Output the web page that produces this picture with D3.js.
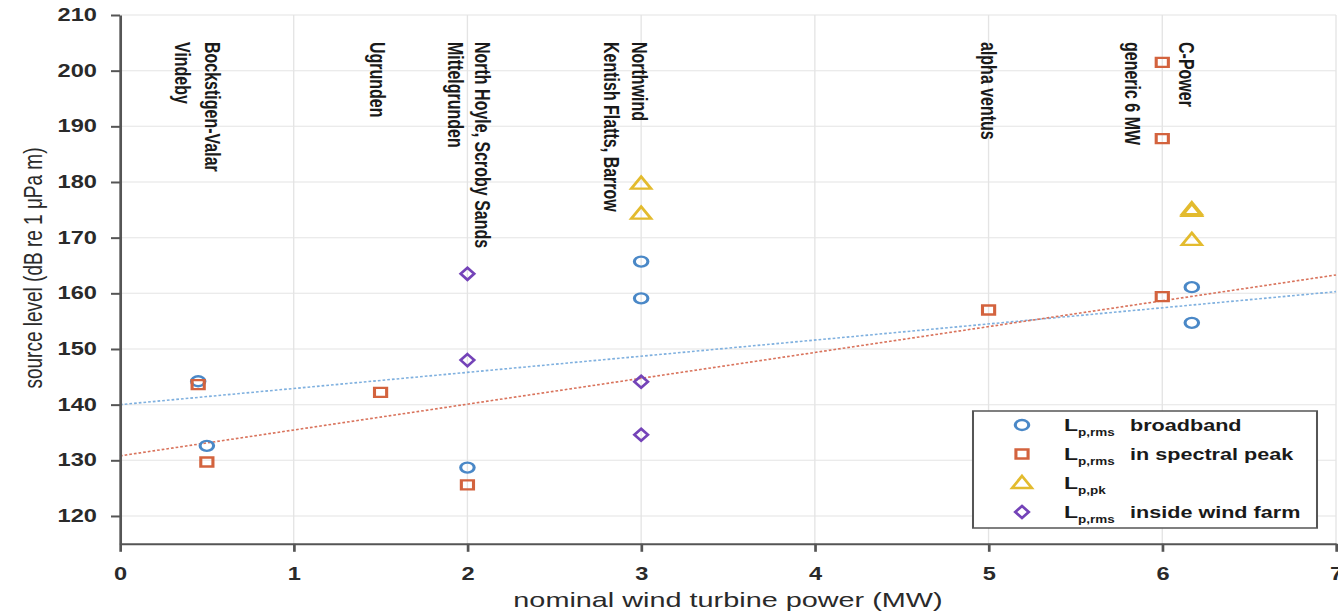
<!DOCTYPE html>
<meta charset="utf-8">
<style>
body { margin: 0; background: #fff; }
.grid line { stroke: #e4e4e4; stroke-width: 1px; }
.axis path, .axis line { stroke: #555; stroke-width: 2px; }
.axis text { font-family: "Liberation Sans", Arial, sans-serif; font-weight: bold; font-size: 17.5px; fill: #2a2a2a; }
.site { font-family: "Liberation Sans", Arial, sans-serif; font-weight: bold; font-size: 16px; fill: #1a1a1a; }
.title { font-family: "Liberation Sans", Arial, sans-serif; fill: #2a2a2a; }
.legend text { font-family: "Liberation Sans", Arial, sans-serif; font-weight: bold; fill: #1a1a1a; }
.trend { fill: none; stroke-width: 1.6px; stroke-dasharray: 2,1.5; }
.mark { fill: none; stroke-width: 2.3px; }
</style>
<body>
<script src="https://d3js.org/d3.v7.min.js"></script>
<script>

// tick labels
var xTicks = [0, 1, 2, 3, 4, 5, 6, 7];
var yTicks = [120, 130, 140, 150, 160, 170, 180, 190, 200, 210];

// L_p,rms broadband (circles)
var broadbandX = [0.45, 0.5, 2, 3, 3, 6.17, 6.17];
var broadbandY = [144.2, 132.6, 128.7, 165.7, 159.1, 161.1, 154.7];

// L_p,rms in spectral peak (squares)
var peakX = [0.45, 0.5, 1.5, 2, 5, 6, 6, 6];
var peakY = [143.6, 129.7, 142.2, 125.6, 157.0, 159.4, 187.8, 201.5];

// L_p,pk (triangles)
var pkX = [3, 3, 6.17, 6.17, 6.17];
var pkY = [179.7, 174.3, 174.8, 175.1, 169.6];

// L_p,rms inside wind farm (diamonds)
var farmX = [2, 2, 3, 3];
var farmY = [163.5, 148.0, 144.1, 134.6];

// fitted trend lines (end points)
var trendX = [0, 7];
var trendBroadband = [140.0, 160.3];
var trendPeak = [130.8, 163.3];

// wind farm names written above the points
var siteNames = ["Bockstigen-Valar", "Vindeby", "Ugrunden", "North Hoyle, Scroby Sands", "Mittelgrunden",
                 "Northwind", "Kentish Flatts, Barrow", "alpha ventus", "generic 6 MW", "C-Power"];
var siteX = [0.535, 0.36, 1.48, 2.09, 1.93, 2.99, 2.83, 5.0, 5.83, 6.14];

// legend
var legendSub = ["p,rms", "p,rms", "p,pk", "p,rms"];
var legendText = ["broadband", "in spectral peak", "", "inside wind farm"];
var colors = ["#4a88c7", "#d3633e", "#e3bb2e", "#7443b8"];

var W = 1338, H = 611;
var k = 1.35; // the picture is stretched sideways

var x = d3.scaleLinear().domain([0, 7]).range([120 / k, 1336 / k]);
var y = d3.scaleLinear().domain([115, 210]).range([543.8, 15]);

var svg = d3.select("body").append("svg")
    .attr("width", W)
    .attr("height", H);

var g = svg.append("g").attr("transform", "scale(" + k + ",1)");

// grid
var grid = g.append("g").attr("class", "grid");
grid.selectAll("line.v").data(xTicks.slice(1)).join("line")
    .attr("class", "v")
    .attr("x1", d => x(d)).attr("x2", d => x(d))
    .attr("y1", y(210)).attr("y2", y(115));
grid.selectAll("line.h").data(yTicks).join("line")
    .attr("class", "h")
    .attr("x1", x(0)).attr("x2", x(7))
    .attr("y1", d => y(d)).attr("y2", d => y(d));

// trend lines
var line = d3.line().x(d => x(d[0])).y(d => y(d[1]));
g.append("path").attr("class", "trend")
    .attr("stroke", "#7fb0df")
    .attr("d", line(trendX.map((v, i) => [v, trendBroadband[i]])));
g.append("path").attr("class", "trend")
    .attr("stroke", "#d9735c")
    .attr("d", line(trendX.map((v, i) => [v, trendPeak[i]])));

// marker shapes
var shapes = [
  "M5,0A5,5 0 1,1 -5,0A5,5 0 1,1 5,0Z",
  "M-4.5,-4.5H4.5V4.5H-4.5Z",
  "M0,-7L7.3,5H-7.3Z",
  "M0,-6L5,0L0,6L-5,0Z"
];

function drawSeries(xs, ys, s) {
  g.append("g").selectAll("path").data(d3.range(xs.length)).join("path")
      .attr("class", "mark")
      .attr("stroke", colors[s])
      .attr("transform", i => "translate(" + x(xs[i]) + "," + y(ys[i]) + ")")
      .attr("d", shapes[s]);
}
drawSeries(broadbandX, broadbandY, 0);
drawSeries(peakX, peakY, 1);
drawSeries(pkX, pkY, 2);
drawSeries(farmX, farmY, 3);

// axes
g.append("g").attr("class", "axis")
    .attr("transform", "translate(0," + y(115) + ")")
    .call(d3.axisBottom(x).tickValues(xTicks).tickFormat(d3.format("d"))
      .tickSize(8).tickSizeOuter(0).tickPadding(16));

g.append("g").attr("class", "axis")
    .attr("transform", "translate(" + x(0) + ",0)")
    .call(d3.axisLeft(y).tickValues(yTicks)
      .tickSize(9 / k).tickSizeOuter(0).tickPadding(14 / k));

// site labels
g.append("g").selectAll("text").data(siteNames).join("text")
    .attr("class", "site")
    .attr("transform", (d, i) => "translate(" + x(siteX[i]) + ",42) rotate(90)")
    .attr("dy", "0.35em")
    .text(d => d);

// axis titles
g.append("text").attr("class", "title")
    .attr("x", (x.range()[0] + x.range()[1]) / 2)
    .attr("y", 607)
    .attr("font-size", 20)
    .attr("text-anchor", "middle")
    .attr("textLength", 318)
    .attr("lengthAdjust", "spacingAndGlyphs")
    .text("nominal wind turbine power (MW)");

g.append("text").attr("class", "title")
    .attr("transform", "translate(" + (42 / k) + ",268) rotate(-90)")
    .attr("font-size", 19)
    .attr("text-anchor", "middle")
    .text("source level (dB re 1 \u03bcPa m)");

// legend
var leg = g.append("g").attr("class", "legend");
leg.append("rect")
    .attr("x", 973 / k).attr("y", 411)
    .attr("width", (1317 - 973) / k).attr("height", 117)
    .attr("fill", "#fff").attr("stroke", "#555").attr("stroke-width", 1.5);

var rowY = d3.scaleLinear().domain([0, 3]).range([425, 512]);
legendSub.forEach(function(sub, i) {
  leg.append("path")
      .attr("class", "mark")
      .attr("stroke", colors[i])
      .attr("transform", "translate(" + (1022 / k) + "," + rowY(i) + ")")
      .attr("d", shapes[i]);
  var t = leg.append("text")
      .attr("x", 1064 / k)
      .attr("y", rowY(i) + 6)
      .attr("font-size", 17);
  t.append("tspan").text("L");
  t.append("tspan").attr("font-size", 10).attr("dy", 5).text(sub);
  if (legendText[i]) {
    t.append("tspan").attr("x", 1130 / k).attr("dy", -5).attr("font-size", 16).text(legendText[i]);
  }
});

</script>
</body>
